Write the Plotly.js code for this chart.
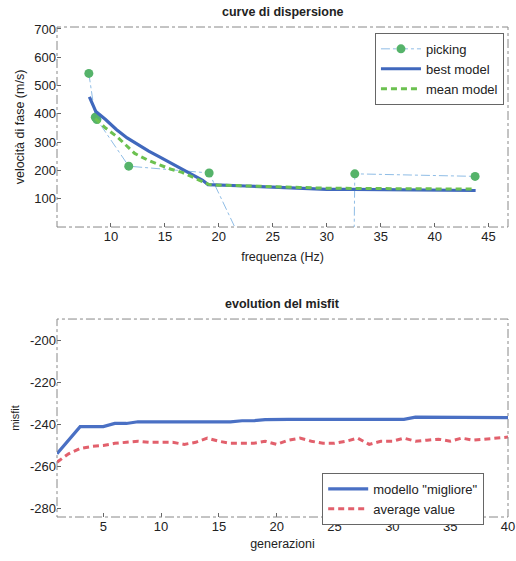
<!DOCTYPE html>
<html>
<head>
<meta charset="utf-8">
<script src="https://cdn.plot.ly/plotly-3.0.1.min.js"></script>
<style>
  html, body { margin: 0; padding: 0; background: #fff; }
  #chart { width: 516px; height: 561px; }
</style>
</head>
<body>
<div id="chart"></div>
<script>
// --- dispersion curves ---
const pickFreq = [7.95, 8.55, 8.7, 11.65, 19.1, 32.3, 32.6, 43.75];
const pickVel  = [543, 388, 380, 215, 191, -870, 188, 179];

const bestFreq = [8.0, 8.6, 9.5, 10.5, 11.5, 12.5, 13.5, 14.5, 15.5, 16.5, 17.5, 18.5, 19.0, 20, 22.5, 25, 27.5, 30, 32.5, 35, 37.5, 40, 42.5, 43.8];
const bestVel  = [460, 408, 380, 345, 315, 290, 268, 248, 228, 208, 188, 165, 150, 148, 145, 141, 137, 133, 133, 132, 131, 130, 129, 129];

const meanFreq = [8.55, 9.5, 10.6, 11.5, 12.2, 13.5, 14.6, 15.5, 16.6, 17.5, 18.6, 19.1, 20, 22.5, 25, 27.5, 30, 32.5, 35, 37.5, 40, 42.5, 43.8];
const meanVel  = [383, 350, 318, 285, 260, 235, 217, 205, 193, 178, 158, 150, 148, 146, 143, 140, 137, 136, 136, 135, 135, 134, 134];

const freqTicks = [10, 15, 20, 25, 30, 35, 40, 45];
const velTicks  = [100, 200, 300, 400, 500, 600, 700];

// --- misfit evolution ---
const generations = [1,2,3,4,5,6,7,8,9,10,11,12,13,14,15,16,17,18,19,20,21,22,23,24,25,26,27,28,29,30,31,32,33,34,35,36,37,38,39,40];
const bestMisfit = [-254, -247.5, -241, -241, -241, -239.5, -239.5, -238.7, -238.7, -238.7, -238.7, -238.7, -238.7, -238.7, -238.7, -238.7, -238.2, -238.2, -237.7, -237.5, -237.5, -237.5, -237.5, -237.5, -237.5, -237.5, -237.5, -237.5, -237.5, -237.5, -237.5, -236.5, -236.5, -236.5, -236.5, -236.5, -236.5, -236.5, -236.5, -236.7];
const avgMisfit  = [-258, -254, -251.5, -250.5, -250, -249, -248.5, -248, -248.5, -248.5, -248.5, -249.5, -248.5, -246.5, -248, -249, -249, -249, -248, -249.5, -247.5, -246.5, -248, -249, -249, -248, -246.5, -249.5, -248, -248, -246.5, -248, -247.5, -247, -248, -246.5, -247.5, -247, -246.5, -246];

const genTicks     = [5, 10, 15, 20, 25, 30, 35, 40];
const misfitTicks  = [-280, -260, -240, -220, -200];
const misfitLabels = ['-280', '-260', '-240', '-220', '-200'];

const FONT = "Liberation Sans, Arial, sans-serif";
const INK = '#222';

const traces = [
  {
    x: pickFreq, y: pickVel, name: 'picking', type: 'scatter', mode: 'lines+markers',
    line: {color: '#8fbde6', width: 1, dash: 'dashdot'},
    marker: {color: '#55b36a', size: 9},
    xaxis: 'x', yaxis: 'y', legend: 'legend'
  },
  {
    x: bestFreq, y: bestVel, name: 'best model', type: 'scatter', mode: 'lines',
    line: {color: '#4068bd', width: 3.2},
    xaxis: 'x', yaxis: 'y', legend: 'legend'
  },
  {
    x: meanFreq, y: meanVel, name: 'mean model', type: 'scatter', mode: 'lines',
    line: {color: '#6cc150', width: 3, dash: '6px,4px'},
    xaxis: 'x', yaxis: 'y', legend: 'legend'
  },
  {
    x: generations, y: bestMisfit, name: 'modello "migliore"', type: 'scatter', mode: 'lines',
    line: {color: '#4a70c4', width: 3.2},
    xaxis: 'x2', yaxis: 'y2', legend: 'legend2'
  },
  {
    x: generations, y: avgMisfit, name: 'average value', type: 'scatter', mode: 'lines',
    line: {color: '#e2606c', width: 3, dash: '6px,4px'},
    xaxis: 'x2', yaxis: 'y2', legend: 'legend2'
  }
];

const axisCommon = {
  showgrid: false, zeroline: false, showline: false,
  ticks: 'inside', ticklen: 4, tickcolor: '#666', tickwidth: 1,
  tickfont: {family: FONT, size: 13, color: INK}
};

const frame = (xr, yr) => ({
  type: 'rect', xref: xr + ' domain', yref: yr + ' domain',
  x0: 0, x1: 1, y0: 0, y1: 1,
  line: {color: '#888', width: 1, dash: 'dashdot'}
});

const legendCommon = {
  xanchor: 'left', yanchor: 'top',
  bgcolor: '#fff', bordercolor: '#666', borderwidth: 1,
  font: {family: FONT, size: 13, color: INK},
  itemwidth: 40, tracegroupgap: 0
};

const layout = {
  width: 516, height: 561,
  margin: {l: 57, r: 8, t: 27, b: 44},
  paper_bgcolor: '#fff', plot_bgcolor: '#fff',
  showlegend: true,
  xaxis: Object.assign({}, axisCommon, {
    domain: [0, 1], anchor: 'y', range: [5, 46.8], tickvals: freqTicks,
    title: {text: 'frequenza (Hz)', font: {family: FONT, size: 12.5, color: INK}, standoff: 9}
  }),
  yaxis: Object.assign({}, axisCommon, {
    domain: [0.5918, 1], anchor: 'x', range: [0, 707], tickvals: velTicks,
    title: {text: 'velocità di fase (m/s)', font: {family: FONT, size: 12.5, color: INK}, standoff: 6}
  }),
  xaxis2: Object.assign({}, axisCommon, {
    domain: [0, 1], anchor: 'y2', range: [1, 40], tickvals: genTicks,
    title: {text: 'generazioni', font: {family: FONT, size: 12.5, color: INK}, standoff: 6}
  }),
  yaxis2: Object.assign({}, axisCommon, {
    domain: [0, 0.404], anchor: 'x2', range: [-284.2, -189.6],
    tickvals: misfitTicks, ticktext: misfitLabels,
    title: {text: 'misfit', font: {family: FONT, size: 11, color: INK}, standoff: 8}
  }),
  legend: Object.assign({}, legendCommon, {x: 0.705, y: 0.988}),
  legend2: Object.assign({}, legendCommon, {x: 0.588, y: 0.0898}),
  shapes: [frame('x', 'y'), frame('x2', 'y2')],
  annotations: [
    {text: '<b>curve di dispersione</b>', xref: 'x domain', yref: 'y domain', x: 0.5, y: 1.0, yshift: 6,
     xanchor: 'center', yanchor: 'bottom', showarrow: false,
     font: {family: FONT, size: 12.5, color: INK}},
    {text: '<b>evolution del misfit</b>', xref: 'x2 domain', yref: 'y2 domain', x: 0.5, y: 1.0, yshift: 6,
     xanchor: 'center', yanchor: 'bottom', showarrow: false,
     font: {family: FONT, size: 12.5, color: INK}}
  ]
};

Plotly.newPlot('chart', traces, layout, {displayModeBar: false, staticPlot: true});
</script>
</body>
</html>
